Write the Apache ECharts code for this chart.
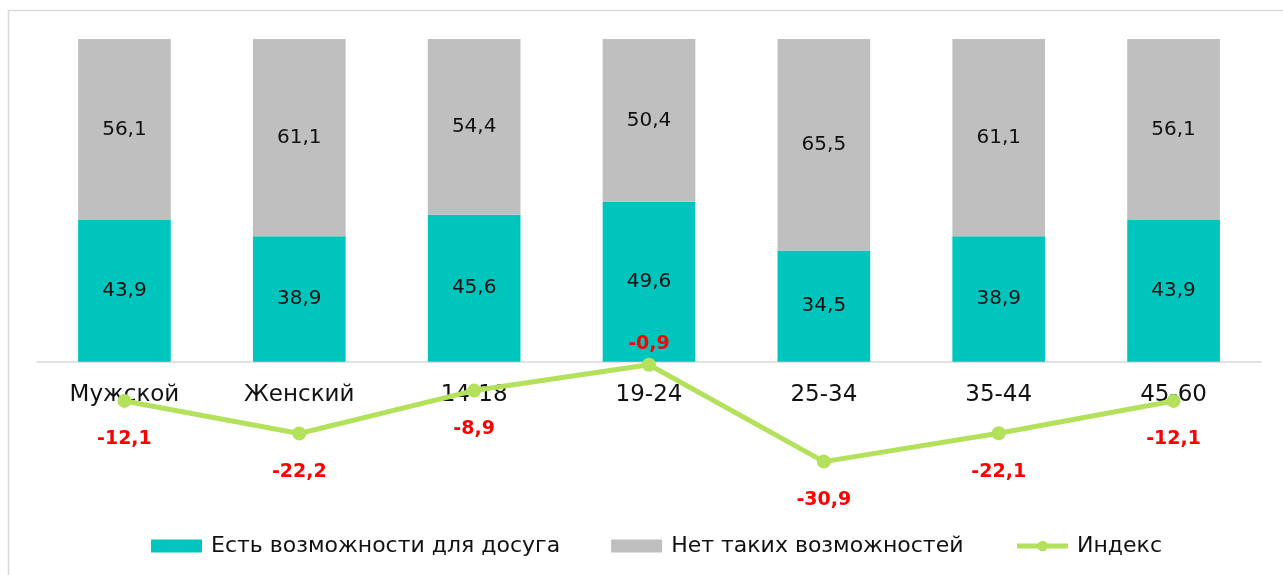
<!DOCTYPE html>
<html><head><meta charset="utf-8">
<script src="https://cdn.jsdelivr.net/npm/echarts@6/dist/echarts.min.js"></script>
<style>html,body{margin:0;padding:0;background:#fff}#c{width:1283px;height:575px}</style>
</head><body><div id="c"></div>
<script>
const categories = ['Мужской','Женский','14-18','19-24','25-34','35-44','45-60'];
const hasLeisure = [43.9, 38.9, 45.6, 49.6, 34.5, 38.9, 43.9];
const noLeisure = [56.1, 61.1, 54.4, 50.4, 65.5, 61.1, 56.1];
const indexValues = [-12.1, -22.2, -8.9, -0.9, -30.9, -22.1, -12.1];

const FONT = '"DejaVu Sans", sans-serif';
const fmt = v => String(v).replace('.', ',');
const chart = echarts.init(document.getElementById('c'));
chart.setOption({
  animation: false,
  textStyle: { fontFamily: FONT },
  graphic: [{ type: 'rect', shape: { x: 8.5, y: 10.5, width: 1400, height: 700 }, style: { fill: 'none', stroke: '#d9d9d9', lineWidth: 1.5 }, z: -1 }],
  grid: { left: 37, right: 22, top: 39, bottom: 84, containLabel: false },
  legend: {
    left: 146, top: 530, itemGap: 51, itemWidth: 51, itemHeight: 13,
    textStyle: { fontSize: 22, color: '#111', fontFamily: FONT, padding: [0, 0, 0, 4] },
    data: [
      { name: 'Есть возможности для досуга', icon: 'rect' },
      { name: 'Нет таких возможностей', icon: 'rect' },
      { name: 'Индекс', lineStyle: { width: 5 } }
    ]
  },
  xAxis: {
    type: 'category', data: categories,
    axisLine: { onZero: true, lineStyle: { color: '#d9d9d9', width: 1.5 } },
    axisTick: { show: false },
    axisLabel: { fontSize: 23, color: '#111', margin: -107, fontFamily: FONT }
  },
  yAxis: {
    type: 'value', min: -40, max: 100, show: true,
    axisLine: { show: false }, axisTick: { show: false }, axisLabel: { show: false }, splitLine: { show: false }
  },
  series: [
    {
      name: 'Есть возможности для досуга', type: 'bar', stack: 's', data: hasLeisure,
      barWidth: '53%', itemStyle: { color: '#00c5bd' },
      label: { show: true, position: 'inside', fontSize: 20, color: '#111', formatter: p => fmt(p.value) }
    },
    {
      name: 'Нет таких возможностей', type: 'bar', stack: 's', data: noLeisure,
      barWidth: '53%', itemStyle: { color: '#bfbfbf' },
      label: { show: true, position: 'inside', fontSize: 20, color: '#111', formatter: p => fmt(p.value) }
    },
    {
      name: 'Индекс', type: 'line', data: indexValues.map((v, i) => i === 3 ? { value: v, label: { position: 'top', distance: 4 } } : v),
      z: 5, symbol: 'circle', symbolSize: 14,
      lineStyle: { color: '#b4e15c', width: 5 }, itemStyle: { color: '#b4e15c' },
      label: { show: true, position: 'bottom', distance: 22, fontSize: 19, fontWeight: 'bold', color: '#ff0000', formatter: p => fmt(p.value) }
    }
  ]
});
</script></body></html>
